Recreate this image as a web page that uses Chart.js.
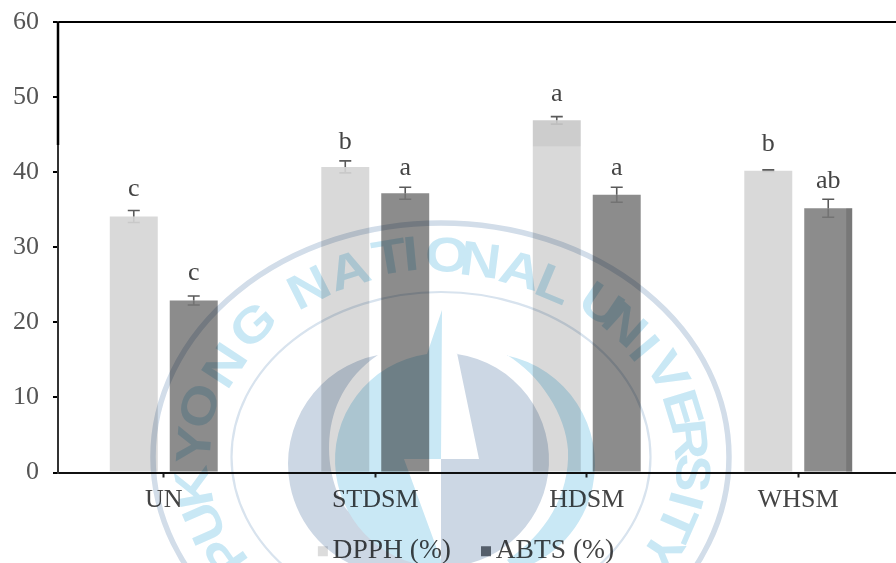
<!DOCTYPE html>
<html><head><meta charset="utf-8">
<style>html,body{margin:0;padding:0;background:#fff;width:896px;height:563px;overflow:hidden}
#wrap{position:absolute;left:0;top:0;width:896px;height:563px;overflow:hidden}
canvas{display:block}</style>
<script src="https://cdn.jsdelivr.net/npm/chart.js@4"></script>
</head><body><div id="wrap"><canvas id="c" width="930" height="575" style="width:930px;height:575px"></canvas></div>
<script>
const categories = ['UN','STDSM','HDSM','WHSM'];
const dpphValues = [34.1,40.7,46.9,40.2];
const abtsValues = [22.9,37.2,37.0,35.2];
const dpphErrors = [0.8,0.8,0.5,0.1];
const abtsErrors = [0.6,0.8,1.0,1.2];
const dpphLetters = ['c','b','a','b'];
const abtsLetters = ['c','a','a','ab'];
const seriesNames = ['DPPH (%)','ABTS (%)'];
const seriesColors = ['#d9d9d9','#8c8c8c'];
const legendSwatchColors = ['#dcdcdc','#6a7078'];
const sealLetters = [['P',228,553],['U',207,522],['K',197,487],['Y',197,445],['O',202,407],['N',227,367],['G',255,327],
 ['N',310,290],['A',350,273],['T',390,260],['I',411,257],['O',447,258],['N',480,263],['A',520,273],['L',553,287],
 ['U',600,307],['N',623,327],['I',642,350],['V',665,373],['E',680,410],['R',687,440],['S',690,473],['I',683,500],['T',674,522],['Y',660,550]];
const FONT = '"Liberation Serif", serif';

function drawSeal(w,h){
  const o=document.createElement('canvas');o.width=w;o.height=h;const g=o.getContext('2d');
  const slate='#ccd7e4',blue='#c9e8f5';
  const cx=441,cy=457;
  g.strokeStyle='#d2dde9';g.lineWidth=5.5;g.beginPath();g.ellipse(cx,cy,288,234,0,0,Math.PI*2);g.stroke();
  g.strokeStyle='#d8e3ee';g.lineWidth=2.2;g.beginPath();g.ellipse(cx,cy,209.5,165,0,0,Math.PI*2);g.stroke();
  g.fillStyle=slate;g.beginPath();g.moveTo(378,355);
  g.arc(399,464,111,Math.atan2(355-464,378-399),Math.atan2(575-464,370-399),true);
  g.lineTo(430,575);g.lineTo(347,510);g.bezierCurveTo(325,480,312,400,378,355);g.closePath();g.fill();
  g.fillStyle=blue;g.beginPath();g.moveTo(507,355);
  g.arc(484,464,111,Math.atan2(355-464,507-484),Math.atan2(570-464,515-484),false);
  g.lineTo(507,560);g.bezierCurveTo(545,535,570,495,568,450);g.bezierCurveTo(566,415,540,375,507,355);g.closePath();g.fill();
  g.fillStyle=blue;g.beginPath();g.moveTo(442,310);g.lineTo(427,354);
  g.arc(442,460,107,Math.atan2(354-460,427-442),Math.PI/2,true);
  g.lineTo(441,560);g.lineTo(404,459);g.lineTo(441,459);g.closePath();g.fill();
  g.fillStyle=slate;g.beginPath();g.moveTo(457,353);
  g.arc(442,460,107,Math.atan2(353-460,457-442),Math.PI/2,false);
  g.lineTo(441,567);g.lineTo(441,459);g.lineTo(479,459);g.closePath();g.fill();
  g.fillStyle=blue;g.font='bold 54px "Liberation Sans", sans-serif';g.textAlign='center';g.textBaseline='middle';
  sealLetters.forEach(([t,x,y])=>{
    const a=Math.atan2((y-cy)/200,(x-cx)/250);
    const rot=Math.atan2(200*Math.cos(a),-250*Math.sin(a));
    g.save();g.translate(x,y);g.rotate(rot);g.scale(1.05,0.9);g.fillText(t,0,0);g.restore();
  });
  return o;
}

const annotate={id:'annotate',
 beforeDraw(chart){
  const lg=chart.legend;
  lg.left+=14;lg.right+=14;
  lg.legendHitBoxes.forEach(b=>{b.left+=14;});
 },
 afterDatasetsDraw(chart){
  const {ctx}=chart;const y=chart.scales.y;
  const letterGaps=[[14,12,16,19],[16,12,12,11]];
  ctx.save();
  [[dpphErrors,dpphLetters,0],[abtsErrors,abtsLetters,1]].forEach(([errs,letters,i])=>{
    const meta=chart.getDatasetMeta(i);const vals=chart.data.datasets[i].data;
    meta.data.forEach((bar,k)=>{
      const up=y.getPixelForValue(vals[k]+errs[k]),lo=y.getPixelForValue(vals[k]-errs[k]),mid=y.getPixelForValue(vals[k]);
      const x=bar.x;
      ctx.strokeStyle='#5a5a5a';ctx.lineWidth=1.6;
      ctx.beginPath();ctx.moveTo(x,mid);ctx.lineTo(x,up);ctx.moveTo(x-6,up);ctx.lineTo(x+6,up);ctx.stroke();
      ctx.globalAlpha=i===0?0.12:0.5;
      ctx.beginPath();ctx.moveTo(x,mid);ctx.lineTo(x,lo);ctx.moveTo(x-6,lo);ctx.lineTo(x+6,lo);ctx.stroke();
      ctx.globalAlpha=1;
      ctx.fillStyle='#444';ctx.font='26px '+FONT;ctx.textAlign='center';ctx.textBaseline='alphabetic';
      ctx.fillText(letters[k],x,up-letterGaps[i][k]);
    });
  });
  const hd=chart.getDatasetMeta(0).data[2];
  ctx.fillStyle='rgba(0,0,0,0.05)';ctx.fillRect(hd.x-hd.width/2,hd.y,hd.width,26);
  const wh=chart.getDatasetMeta(1).data[3];
  ctx.fillStyle='rgba(0,0,0,0.14)';ctx.fillRect(wh.x+wh.width/2-6,wh.y,6,y.bottom-wh.y);
  ctx.restore();
 },
 afterDraw(chart){
  const {ctx,chartArea:a}=chart;
  ctx.save();
  ctx.strokeStyle='#000';ctx.lineWidth=2.5;ctx.beginPath();ctx.moveTo(a.left,a.top);ctx.lineTo(a.left,a.top+123);ctx.stroke();
  const lg=chart.legend;
  lg.legendHitBoxes.forEach((b,i)=>{ctx.fillStyle=legendSwatchColors[i];ctx.fillRect(b.left,b.top+b.height/2-5,10,10);});
  ctx.globalCompositeOperation='multiply';
  ctx.drawImage(drawSeal(chart.width,chart.height),0,0);
  ctx.restore();
 }};

new Chart(document.getElementById('c'),{
 type:'bar',
 data:{labels:categories,datasets:[
  {label:seriesNames[0],data:dpphValues,backgroundColor:seriesColors[0],categoryPercentage:0.567,barPercentage:0.8},
  {label:seriesNames[1],data:abtsValues,backgroundColor:seriesColors[1],categoryPercentage:0.567,barPercentage:0.8}
 ]},
 options:{
  responsive:false,animation:false,devicePixelRatio:1,
  layout:{padding:{left:0,top:22,right:26,bottom:0}},
  plugins:{tooltip:{enabled:false},
   legend:{position:'bottom',labels:{
     boxWidth:1,boxHeight:10,padding:30,color:'#444',font:{family:FONT,size:27.5},
     generateLabels:(c)=>c.data.datasets.map((d,i)=>({text:d.label,fillStyle:'rgba(0,0,0,0)',strokeStyle:'rgba(0,0,0,0)',lineWidth:0,datasetIndex:i,fontColor:'#444'}))
   }}},
  scales:{
   x:{z:1,offset:true,
     afterFit:s=>{s.height=35;},
     border:{color:'#111',width:2},
     grid:{drawOnChartArea:false,drawTicks:true,tickLength:5,tickWidth:2,tickColor:'#222',offset:false},
     ticks:{color:'#444',padding:7,maxRotation:0,autoSkip:false,font:{family:FONT,size:26}}},
   y:{z:1,min:0,max:60,
     afterFit:s=>{s.width=58;s.paddingTop=0;s.paddingBottom=0;},
     border:{color:'#333',width:2},
     grid:{color:c=>c.tick&&c.tick.value===60?'#000':'rgba(0,0,0,0)',lineWidth:2,tickLength:5,tickWidth:2,tickColor:'#000',drawTicks:true},
     ticks:{stepSize:10,color:'#555',padding:14,font:{family:FONT,size:26}}}
  }},
 plugins:[annotate]
});
</script></body></html>
